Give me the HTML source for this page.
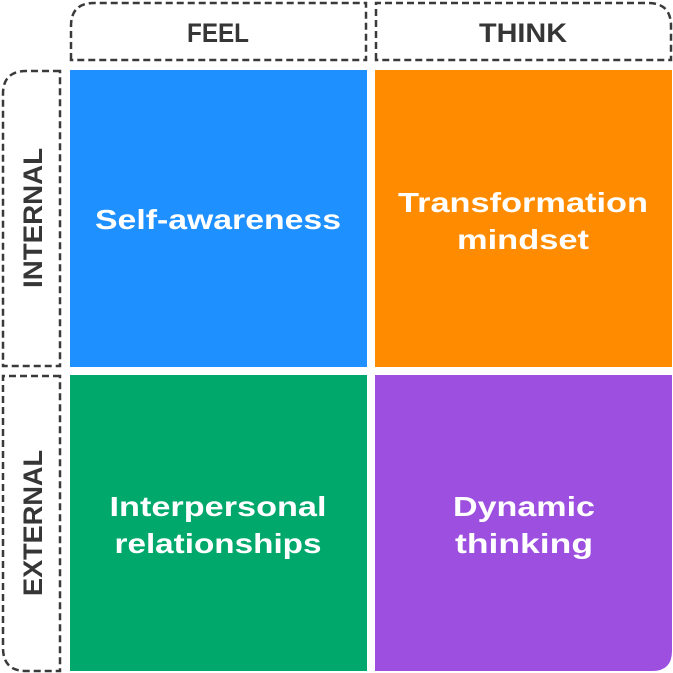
<!DOCTYPE html>
<html><head><style>html,body{margin:0;padding:0;background:#fff}svg{display:block}</style></head>
<body>
<svg width="673" height="673" viewBox="0 0 673 673" xmlns="http://www.w3.org/2000/svg">
<g fill="none" stroke="#3a3a3a" stroke-width="2.5" stroke-dasharray="7,4">
<path d="M71 60 V26 Q71 3 94 3 H366 V60 Z"/>
<path d="M376 60 V3 H648 Q671 3 671 26 V60 Z"/>
<path d="M60 71 H26 Q3 71 3 94 V366 H60 Z"/>
<path d="M60 376 H3 V648 Q3 671 26 671 H60 Z"/>
</g>
<g font-family="Liberation Sans, sans-serif" font-weight="bold" font-size="27" fill="#363636" text-anchor="middle">
<text x="218" y="42" textLength="62" lengthAdjust="spacingAndGlyphs">FEEL</text>
<text x="523" y="42" textLength="88" lengthAdjust="spacingAndGlyphs">THINK</text>
<text transform="translate(42,218) rotate(-90)" textLength="140" lengthAdjust="spacingAndGlyphs">INTERNAL</text>
<text transform="translate(42,523) rotate(-90)" textLength="146" lengthAdjust="spacingAndGlyphs">EXTERNAL</text>
</g>
<rect x="70" y="70" width="297" height="297" fill="#1e90ff"/>
<rect x="375" y="70" width="297" height="297" fill="#ff8c00"/>
<rect x="70" y="375" width="297" height="296" fill="#00a86b"/>
<path d="M375 375 H672 V651 Q672 671 652 671 H375 Z" fill="#9d50e0"/>
<g font-family="Liberation Sans, sans-serif" font-weight="bold" font-size="28" fill="#fff" text-anchor="middle" lengthAdjust="spacingAndGlyphs">
<text x="218" y="229" textLength="246" lengthAdjust="spacingAndGlyphs">Self-awareness</text>
<text x="523" y="212" textLength="250" lengthAdjust="spacingAndGlyphs">Transformation</text>
<text x="523" y="249" textLength="132" lengthAdjust="spacingAndGlyphs">mindset</text>
<text x="218" y="516" textLength="217" lengthAdjust="spacingAndGlyphs">Interpersonal</text>
<text x="218" y="553" textLength="207" lengthAdjust="spacingAndGlyphs">relationships</text>
<text x="524" y="516" textLength="142" lengthAdjust="spacingAndGlyphs">Dynamic</text>
<text x="524" y="553" textLength="138" lengthAdjust="spacingAndGlyphs">thinking</text>
</g>
</svg>
</body></html>
